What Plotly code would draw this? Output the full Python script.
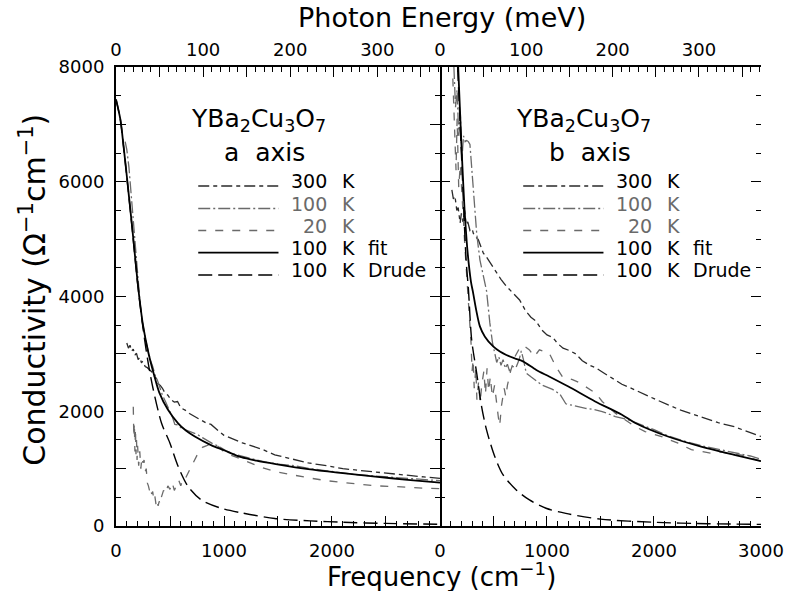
import plotly.graph_objects as go

# ---------------- data (frequency in cm^-1, conductivity in Ohm^-1 cm^-1) -------------
# panel a (a axis)
a300_f = [100,115,130,145,160,175,190,205,220,235,250,270,290,310,330,350,370,390,410,430,450,480,510,540,570,600,640,680,720,760,800,840,880,920,960,1000,1050,1100,1170,1250,1350,1470,1600,1780,1950,2100,2250,2400,2550,2700,2850,3000]
a300_s = [3190,3100,3150,3050,3080,2980,3010,2900,2940,2850,2870,2780,2760,2720,2690,2620,2580,2480,2450,2400,2330,2280,2200,2160,2170,2060,2020,1960,1920,1880,1830,1790,1770,1700,1640,1580,1540,1500,1450,1400,1340,1240,1180,1100,1050,1000,970,940,905,880,855,830]

a100_f = [85,100,120,140,160,180,200,220,240,255,270,285,300,320,340,360,380,400,430,460,490,520,545,575,606,640,680,720,758,800,850,900,960,1020,1080,1140,1200,1300,1400,1500,1650,1800,2000,2200,2400,2600,2800,3000]
a100_s = [6700,6560,6250,5800,5300,4800,4320,3950,3600,3420,3300,3150,3020,2880,2780,2640,2560,2430,2280,2160,2040,1910,1770,1760,1705,1680,1650,1630,1590,1540,1480,1430,1380,1310,1260,1230,1190,1150,1110,1080,1050,1000,950,900,870,840,815,790]

a20_f = [160,165,170,175,180,185,190,195,200,210,220,230,240,250,260,270,280,290,300,310,320,330,340,350,360,370,380,390,400,410,420,440,460,480,500,520,540,560,580,600,620,640,680,720,760,800,840,880,920,960,1000,1050,1100,1170,1250,1350,1470,1600,1780,1950,2100,2250,2400,2550,2700,2850,3000]
a20_s = [2080,1550,1800,1300,1700,1250,1500,1150,1400,1050,1300,1000,1200,1100,1150,950,1000,750,700,620,680,560,600,450,520,380,460,350,430,380,500,620,560,700,640,760,620,700,800,700,830,820,960,1120,1270,1370,1400,1440,1420,1370,1290,1240,1210,1160,1090,1020,950,900,840,790,760,730,700,690,670,660,650]

afit_f = [0,40,70,100,150,200,215,250,300,350,400,480,575,650,730,880,1000,1160,1300,1480,1780,2100,2400,2700,3000]
afit_s = [7435,7090,6620,6100,5200,4250,4000,3500,3020,2650,2330,2030,1790,1660,1560,1410,1320,1200,1140,1080,990,920,860,805,756]

adru_f = [0,40,70,100,150,200,250,300,346,422,498,575,667,789,972,1160,1470,1800,2100,2500,3000]
adru_s = [7435,7090,6610,6090,5180,4230,3450,2820,2370,1790,1450,1040,690,455,310,230,130,90,65,45,30]

# panel b (b axis)
b300_f = [111,125,140,157,170,188,200,215,230,245,260,280,300,312,330,358,380,404,430,451,480,528,570,620,665,713,744,800,850,898,950,1000,1052,1100,1150,1207,1269,1330,1400,1454,1520,1600,1700,1800,1900,2000,2133,2250,2441,2600,2750,2900,3000]
b300_s = [5860,5700,5750,5500,5550,5280,5450,5300,5500,5250,5300,5150,5180,5100,5050,4990,4880,4760,4700,4640,4550,4410,4300,4180,4100,4000,3940,3750,3640,3570,3420,3330,3290,3180,3100,3060,3000,2880,2800,2760,2680,2580,2470,2390,2300,2220,2110,2020,1900,1800,1730,1620,1560]

b100_f = [130,145,160,175,190,205,220,235,250,265,280,300,320,343,373,400,435,466,491,512,530,550,570,590,610,630,650,680,710,740,760,780,806,850,898,950,1052,1120,1176,1260,1361,1440,1516,1639,1762,1900,2000,2133,2300,2441,2600,2750,2900,3000]
b100_s = [8000,7300,7600,6800,7200,6400,6800,6700,6720,6700,6650,6200,5700,5100,4640,4400,4100,3540,3190,3010,2850,2950,2800,2900,2750,2820,2700,2780,2760,2900,3050,2900,2665,2600,2540,2460,2380,2300,2130,2090,2050,2030,1995,1908,1850,1750,1680,1570,1470,1400,1340,1290,1220,1165]

b20_f = [120,135,150,160,175,190,205,220,235,250,265,280,290,300,310,320,335,345,360,375,390,410,425,440,455,470,490,510,530,545,558,575,600,615,630,660,700,744,780,836,880,929,1021,1083,1145,1238,1300,1361,1454,1516,1639,1824,1917,2071,2225,2349,2450,2534,2626,2720,2812,2900,3000]
b20_s = [7800,7000,6200,7100,5900,6300,5700,5300,4800,4400,4000,3600,3200,2700,2900,2400,2750,2200,2500,2150,2450,2700,2300,2750,2350,2600,2250,2450,2100,1900,1750,2100,2400,2250,2450,2700,2950,3100,3150,3070,2950,3070,3010,2780,2600,2550,2500,2430,2316,2170,1967,1733,1646,1558,1443,1330,1300,1269,1290,1250,1240,1190,1130]

bfit_f = [170,190,210,230,250,270,290,310,340,373,420,497,560,620,700,775,900,1020,1200,1450,1700,1820,2130,2440,2750,3000]
bfit_s = [8000,7100,6250,5500,4950,4550,4250,4060,3750,3480,3300,3130,3040,2980,2920,2870,2720,2606,2430,2170,1940,1800,1560,1384,1240,1130]

bdru_f = [165,200,244,266,296,343,389,435,512,590,713,836,991,1176,1500,2000,2500,3000]
bdru_s = [8000,6500,4640,4119,3246,2665,2082,1675,1210,890,628,454,309,220,120,65,40,28]

legend_nums = ["300", "100", "20", "100", "100"]
legend_suffix = ["", "", "", "fit", "Drude"]
panel_titles = ["a", "b"]
CM_PER_MEV = 8.0655

# ---------------- styles --------------------------------------------------------------
FONT = "DejaVu Sans"
C300, C100, C20 = "#2a2a2a", "#6a6a6a", "#6a6a6a"
styles = [
    dict(color=C300, width=1.3, dash="11px,4px,4px,4px"),
    dict(color=C100, width=1.3, dash="12px,3px,2px,3px"),
    dict(color=C20, width=1.3, dash="8px,9px"),
    dict(color="black", width=1.8, dash="solid"),
    dict(color="black", width=1.4, dash="14px,6px"),
]
text_colors = ["black", C100, C20, "black", "black"]

fig = go.Figure()
panels = [
    ("x", "y", [(a300_f, a300_s), (a100_f, a100_s), (a20_f, a20_s), (afit_f, afit_s), (adru_f, adru_s)]),
    ("x2", "y2", [(b300_f, b300_s), (b100_f, b100_s), (b20_f, b20_s), (bfit_f, bfit_s), (bdru_f, bdru_s)]),
]
for xa, ya, series in panels:
    for i, (f, s) in enumerate(series):
        assert len(f) == len(s)
        smooth = i >= 3
        fig.add_trace(go.Scatter(x=f, y=s, xaxis=xa, yaxis=ya, mode="lines",
                                 line=dict(color=styles[i]["color"], width=styles[i]["width"],
                                           dash=styles[i]["dash"],
                                           shape="spline" if smooth else "linear",
                                           smoothing=0.8 if smooth else None),
                                 showlegend=False, hoverinfo="skip"))
# empty traces to bind the top (meV) axes
fig.add_trace(go.Scatter(x=[], y=[], xaxis="x3", yaxis="y", showlegend=False))
fig.add_trace(go.Scatter(x=[], y=[], xaxis="x4", yaxis="y2", showlegend=False))

# ---------------- geometry -----------------------------------------------------------
W, H = 796, 591
L, R, T, B = 116, 29, 67, 65
PW, PH = W - L - R, H - T - B
split = (443 - L) / PW

def px(x):
    return (x - L) / PW

def py(y):
    return (H - B - y) / PH

tickfont = dict(family=FONT, size=18, color="black")
common_x = dict(range=[0, 3000], showline=True, linecolor="black", linewidth=2,
                ticks="inside", ticklen=10, tickwidth=1.3, tickcolor="black",
                minor=dict(dtick=100, tick0=0, ticklen=5, tickwidth=1.1, tickcolor="black", ticks="inside"),
                showgrid=False, zeroline=False, tickfont=tickfont, ticklabelstandoff=7,
                mirror=True)
mev_vals = [0, 50, 100, 150, 200, 250, 300, 350]
mev_text = ["0", "", "100", "", "200", "", "300", ""]
common_top = dict(range=[0, 3000 / CM_PER_MEV], side="top", showline=False,
                  ticks="inside", ticklen=10, tickwidth=1.3, tickcolor="black",
                  tickmode="array", tickvals=mev_vals, ticktext=mev_text,
                  minor=dict(dtick=10, tick0=0, ticklen=5, tickwidth=1.1, tickcolor="black", ticks="inside"),
                  showgrid=False, zeroline=False, tickfont=tickfont, ticklabelstandoff=6)
yvals = list(range(0, 8001, 1000))
ytext = [str(v) if v % 2000 == 0 else "" for v in yvals]
common_y = dict(range=[0, 8000], linecolor="black", linewidth=2,
                ticks="inside", ticklen=10, tickwidth=1.3, tickcolor="black",
                tickmode="array", tickvals=yvals, ticktext=ytext,
                minor=dict(dtick=500, tick0=0, ticklen=5, tickwidth=1.1, tickcolor="black", ticks="inside"),
                showgrid=False, zeroline=False, tickfont=tickfont, mirror="ticks",
                ticklabelstandoff=6)

fig.update_layout(
    width=W, height=H, margin=dict(l=L, r=R, t=T, b=B, pad=0),
    paper_bgcolor="white", plot_bgcolor="white",
    font=dict(family=FONT, color="black"),
    xaxis=dict(common_x, domain=[0, split], anchor="y", tickmode="array",
               tickvals=[0, 500, 1000, 1500, 2000, 2500, 3000], ticktext=["0", "", "1000", "", "2000", "", ""]),
    xaxis2=dict(common_x, domain=[split, 1], anchor="y2", tickmode="array",
                tickvals=[0, 500, 1000, 1500, 2000, 2500, 3000], ticktext=["0", "", "1000", "", "2000", "", "3000"]),
    xaxis3=dict(common_top, overlaying="x", anchor="y"),
    xaxis4=dict(common_top, overlaying="x2", anchor="y2"),
    yaxis=dict(common_y, domain=[0, 1], anchor="x", showline=True),
    yaxis2=dict(common_y, domain=[0, 1], anchor="x2", showline=False, showticklabels=False),
)

ann = []
# axis titles
ann.append(dict(text="Photon Energy (meV)", x=px(445), y=py(17), xref="paper", yref="paper",
                showarrow=False, xanchor="center", yanchor="middle", font=dict(family=FONT, size=27)))
ann.append(dict(text="Frequency (cm<sup>−1</sup>)", x=px(445), y=py(575), xref="paper", yref="paper",
                showarrow=False, xanchor="center", yanchor="middle", font=dict(family=FONT, size=26)))
ann.append(dict(text="Conductivity (Ω<sup>−1</sup>cm<sup>−1</sup>)", x=px(32), y=py(290), xref="paper",
                yref="paper", showarrow=False, textangle=-90, xanchor="center", yanchor="middle",
                font=dict(family=FONT, size=30)))

shapes = []
for p, dx in enumerate([0, 328]):
    ann.append(dict(text="YBa<sub>2</sub>Cu<sub>3</sub>O<sub>7</sub>", x=px(190 + dx), y=py(120),
                    xref="paper", yref="paper", showarrow=False, xanchor="left", align="left",
                    yanchor="middle", font=dict(family=FONT, size=25)))
    ann.append(dict(text=panel_titles[p] + "  axis", x=px(266 + dx), y=py(152), xref="paper", yref="paper",
                    showarrow=False, xanchor="center", yanchor="middle", font=dict(family=FONT, size=25)))
    row_y = [186, 208.5, 230.5, 252.7, 275]
    for i in range(5):
        yl = row_y[i]
        shapes.append(dict(type="line", xref="paper", yref="paper", x0=px(199 + dx), x1=px(280 + dx),
                           y0=py(yl), y1=py(yl),
                           line=dict(color=styles[i]["color"], width=styles[i]["width"], dash=styles[i]["dash"])))
        tf = dict(family=FONT, size=19, color=text_colors[i])
        ann.append(dict(text=legend_nums[i], x=px(331 + dx), y=py(yl - 5), xref="paper", yref="paper",
                        showarrow=False, xanchor="right", yanchor="middle", font=tf))
        ann.append(dict(text="K", x=px(342 + dx), y=py(yl - 5), xref="paper", yref="paper",
                        showarrow=False, xanchor="left", yanchor="middle", font=tf))
        if legend_suffix[i]:
            ann.append(dict(text=legend_suffix[i], x=px(368 + dx), y=py(yl - 5), xref="paper", yref="paper",
                            showarrow=False, xanchor="left", yanchor="middle", font=tf))

fig.update_layout(annotations=ann, shapes=shapes)
fig.write_html("out.html")
